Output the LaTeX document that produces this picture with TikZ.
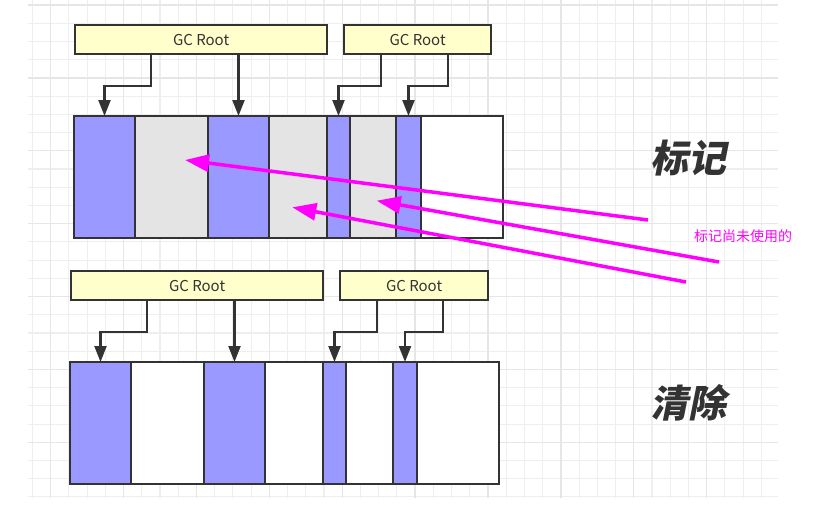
\documentclass[tikz,border=0pt]{standalone}
\usepackage{fontspec}
\setmainfont{Noto Sans CJK SC}
\newfontfamily\cjktitle[FakeSlant=0.2]{Noto Sans CJK SC}
\usetikzlibrary{arrows.meta}

\definecolor{usedblue}{HTML}{9999FF}
\definecolor{freegray}{HTML}{E4E4E4}
\definecolor{rootyellow}{HTML}{FFFFCC}
\definecolor{edgegray}{HTML}{333333}
\definecolor{hintpink}{HTML}{FF00FF}
\definecolor{gridthin}{HTML}{EEEEEE}
\definecolor{gridthick}{HTML}{E6E6E6}

\begin{document}
\begin{tikzpicture}[x=1pt,y=-1pt,
	cell/.style={draw=edgegray,line width=2.2pt,inner sep=0pt,outer sep=0pt,anchor=north west,minimum height=122},
	root/.style={draw=edgegray,fill=rootyellow,line width=2.2pt,inner sep=0pt,anchor=north west,minimum height=29,font=\fontsize{15}{17}\selectfont,text=edgegray},
	ptr/.style={draw=edgegray,line width=2.2pt,-{Triangle[length=16pt,width=12pt]}},
	hint/.style={draw=hintpink,line width=3.5pt,-{Triangle[length=24pt,width=17pt]}}]

	\useasboundingbox (0,0) rectangle (822,520);

	% background grid
	\foreach \k in {-1,...,39}
		\draw[gridthin,line width=1.1pt] ({50.7+18.22*\k},0) -- ({50.7+18.22*\k},498);
	\foreach \k in {0,...,27}
		\draw[gridthin,line width=1.1pt] (28,{5+18.22*\k}) -- (778,{5+18.22*\k});
	\foreach \k in {0,4,...,36}
		\draw[gridthick,line width=1.3pt] ({50.7+18.22*\k},0) -- ({50.7+18.22*\k},498);
	\foreach \k in {0,4,...,24}
		\draw[gridthick,line width=1.3pt] (28,{5+18.22*\k}) -- (778,{5+18.22*\k});

	% mark
	\node[root,minimum width=252] (gcA) at (74,24) {GC Root};
	\node[root,minimum width=147] (gcB) at (343,24) {GC Root};
	\foreach \x/\w/\c [count=\i] in {74/61/usedblue,135/73/freegray,208/61/usedblue,269/58/freegray,327/23/usedblue,350/46/freegray,396/25/usedblue,421/82/white}
		\node[cell,fill=\c,minimum width=\w] (t\i) at (\x,116) {};

	\draw[ptr] ([xshift=77pt]gcA.south west) -- ++(0,31) -| (t1.north);
	\draw[ptr] (gcA.south -| t3.north) -- (t3.north);
	\draw[ptr] ([xshift=38pt]gcB.south west) -- ++(0,31) -| (t5.north);
	\draw[ptr] ([xshift=104.7pt]gcB.south west) -- ++(0,31) -| (t7.north);

	% sweep
	\node[root,minimum width=252] (gcC) at (70,270) {GC Root};
	\node[root,minimum width=148] (gcD) at (339,270) {GC Root};
	\foreach \x/\w/\c [count=\i] in {70/61/usedblue,131/73/white,204/61/usedblue,265/58/white,323/23/usedblue,346/47/white,393/24/usedblue,417/82/white}
		\node[cell,fill=\c,minimum width=\w] (b\i) at (\x,362) {};

	\draw[ptr] ([xshift=77.3pt]gcC.south west) -- ++(0,31) -| (b1.north);
	\draw[ptr] (gcC.south -| b3.north) -- (b3.north);
	\draw[ptr] ([xshift=37.7pt]gcD.south west) -- ++(0,31) -| (b5.north);
	\draw[ptr] ([xshift=104.3pt]gcD.south west) -- ++(0,31) -| (b7.north);

	% pointers to unused blocks
	\coordinate (e1) at (648,220);
	\coordinate (e2) at (719,262);
	\coordinate (e3) at (686,282);
	\draw[hint] (e1) -- ([xshift=13.5pt,yshift=17pt]t2.center);
	\draw[hint] (e2) -- ([xshift=3.7pt,yshift=-23.7pt]t6.center);
	\draw[hint] (e3) -- ([xshift=-5.7pt,yshift=-30.3pt]t4.center);

	\node[font=\cjktitle\bfseries\fontsize{38}{40}\selectfont,text=edgegray] (mk) at (688,158) {标记};
	\node[font=\fontsize{14}{16}\selectfont,text=hintpink] (note) at (743,236) {标记尚未使用的};
	\node[font=\cjktitle\bfseries\fontsize{38}{40}\selectfont,text=edgegray] (sw) at (688,403) {清除};
\end{tikzpicture}
\end{document}
